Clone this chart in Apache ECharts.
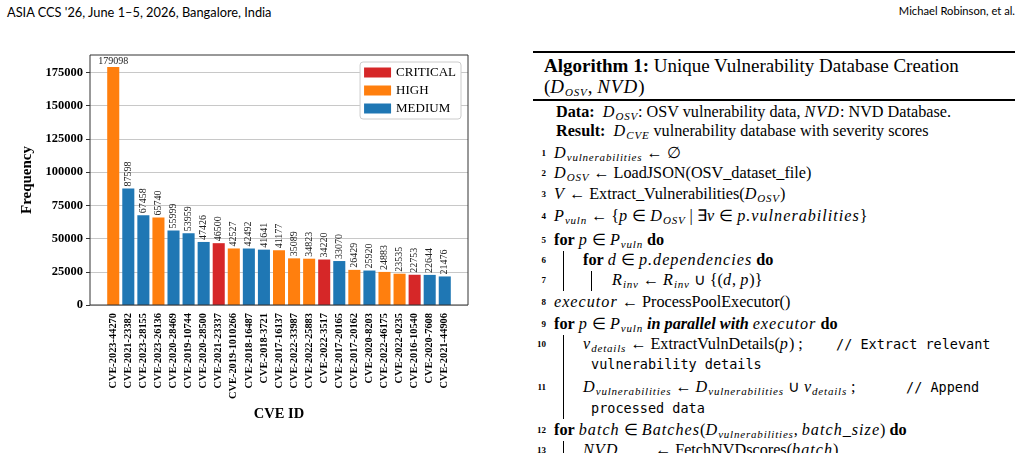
<!DOCTYPE html>
<html>
<head>
<meta charset="utf-8">
<script src="https://cdn.jsdelivr.net/npm/echarts@6/dist/echarts.min.js"></script>
<style>
  body { margin: 0; background: #fff; width: 1022px; height: 453px; overflow: hidden; position: relative; font-family: 'Liberation Serif', serif; color: #000; }
  #chart { position: absolute; left: 0; top: 0; width: 520px; height: 453px; }
  .hdr { position: absolute; top: 4px; font-family: Lato, sans-serif; font-size: 12.8px; white-space: nowrap; }
  .rule { position: absolute; left: 533px; width: 482px; background: #000; }
  .ln { position: absolute; white-space: nowrap; font-size: 16.2px; line-height: 20px; }
  .no { position: absolute; left: 530px; width: 16px; text-align: right; font-size: 9px; font-weight: bold; line-height: 20px; }
  .bar { position: absolute; width: 1px; background: #000; }
  sub { font-size: 11px; font-style: italic; vertical-align: -3px; letter-spacing: 0.8px; }
  .m { font-style: italic; letter-spacing: 1px; }
  .tt { font-family: 'DejaVu Sans Mono', monospace; font-size: 13.5px; letter-spacing: 0; }
</style>
</head>
<body>
<div class="hdr" style="left:7px">ASIA CCS '26, June 1–5, 2026, Bangalore, India</div>
<div class="hdr" style="right:7px;font-size:11.2px">Michael Robinson, et al.</div>
<div id="chart"></div>

<div class="rule" style="top:51px;height:2px"></div>
<div class="ln" style="left:544px;top:55px;font-size:19px;line-height:22px"><b>Algorithm 1:</b> Unique Vulnerability Database Creation</div>
<div class="ln" style="left:544px;top:76px;font-size:19px;line-height:22px">(<span class="m">D</span><sub>OSV</sub>, <span class="m">NVD</span>)</div>
<div class="rule" style="top:99px;height:1.5px"></div>

<div class="ln" style="left:556px;top:102px"><b>Data:</b>&nbsp; <span class="m">D</span><sub>OSV</sub>: OSV vulnerability data, <span class="m">NVD</span>: NVD Database.</div>
<div class="ln" style="left:556px;top:121px"><b>Result:</b>&nbsp; <span class="m">D</span><sub>CVE</sub> vulnerability database with severity scores</div>

<div class="no" style="top:143px">1</div>
<div class="ln" style="left:554px;top:143px"><span class="m">D</span><sub>vulnerabilities</sub> ← ∅</div>
<div class="no" style="top:163px">2</div>
<div class="ln" style="left:554px;top:163px"><span class="m">D</span><sub>OSV</sub> ← LoadJSON(OSV_dataset_file)</div>
<div class="no" style="top:184px">3</div>
<div class="ln" style="left:554px;top:184px"><span class="m">V</span> ← Extract_Vulnerabilities(<span class="m">D</span><sub>OSV</sub>)</div>
<div class="no" style="top:206px">4</div>
<div class="ln" style="left:554px;top:206px"><span class="m">P</span><sub>vuln</sub> ← {<span class="m">p</span> ∈ <span class="m">D</span><sub>OSV</sub> | ∃<span class="m">v</span> ∈ <span class="m">p.vulnerabilities</span>}</div>
<div class="no" style="top:230px">5</div>
<div class="ln" style="left:554px;top:230px"><b>for</b> <span class="m">p</span> ∈ <span class="m">P</span><sub>vuln</sub> <b>do</b></div>
<div class="bar" style="left:563px;top:251px;height:40px"></div>
<div class="no" style="top:250px">6</div>
<div class="ln" style="left:583px;top:250px"><b>for</b> <span class="m">d</span> ∈ <span class="m">p.dependencies</span> <b>do</b></div>
<div class="bar" style="left:591px;top:271px;height:20px"></div>
<div class="no" style="top:270px">7</div>
<div class="ln" style="left:612px;top:270px"><span class="m">R</span><sub>inv</sub> ← <span class="m">R</span><sub>inv</sub> ∪ {(<span class="m">d</span>, <span class="m">p</span>)}</div>
<div class="no" style="top:292px">8</div>
<div class="ln" style="left:554px;top:292px"><span class="m">executor</span> ← ProcessPoolExecutor()</div>
<div class="no" style="top:314px">9</div>
<div class="ln" style="left:554px;top:314px"><b>for</b> <span class="m">p</span> ∈ <span class="m">P</span><sub>vuln</sub> <b><i>in parallel with</i></b> <span class="m">executor</span> <b>do</b></div>
<div class="bar" style="left:563px;top:335px;height:84px"></div>
<div class="no" style="top:334px">10</div>
<div class="ln" style="left:583px;top:334px"><span class="m">v</span><sub>details</sub> ← ExtractVulnDetails(<span class="m">p</span>) ;</div>
<div class="ln tt" style="left:836px;top:334px">// Extract relevant</div>
<div class="ln tt" style="left:591px;top:354px">vulnerability details</div>
<div class="no" style="top:377px">11</div>
<div class="ln" style="left:583px;top:377px"><span class="m">D</span><sub>vulnerabilities</sub> ← <span class="m">D</span><sub>vulnerabilities</sub> ∪ <span class="m">v</span><sub>details</sub> ;</div>
<div class="ln tt" style="left:906px;top:377px">// Append</div>
<div class="ln tt" style="left:591px;top:398px">processed data</div>
<div class="no" style="top:420px">12</div>
<div class="ln" style="left:554px;top:420px"><b>for</b> <span class="m">batch</span> ∈ <span class="m">Batches</span>(<span class="m">D</span><sub>vulnerabilities</sub>, <span class="m">batch_size</span>) <b>do</b></div>
<div class="bar" style="left:563px;top:441px;height:20px"></div>
<div class="no" style="top:440px">13</div>
<div class="ln" style="left:583px;top:440px"><span class="m">NVD</span><sub>scores</sub> ← FetchNVDscores(<span class="m">batch</span>)</div>

<script>
const categories = [
  'CVE-2023-44270', 'CVE-2021-23382', 'CVE-2023-28155', 'CVE-2023-26136',
  'CVE-2020-28469', 'CVE-2019-10744', 'CVE-2020-28500', 'CVE-2021-23337',
  'CVE-2019-1010266', 'CVE-2018-16487', 'CVE-2018-3721', 'CVE-2017-16137',
  'CVE-2022-33987', 'CVE-2022-25883', 'CVE-2022-3517', 'CVE-2017-20165',
  'CVE-2017-20162', 'CVE-2020-8203', 'CVE-2022-46175', 'CVE-2022-0235',
  'CVE-2016-10540', 'CVE-2020-7608', 'CVE-2021-44906'
];
const counts = [
  179098, 87598, 67458, 65740, 55999, 53959, 47426, 46500,
  42527, 42492, 41641, 41177, 35089, 34823, 34220, 33070,
  26429, 25920, 24883, 23535, 22753, 22644, 21476
];
const severity = [
  'HIGH', 'MEDIUM', 'MEDIUM', 'HIGH', 'MEDIUM', 'MEDIUM', 'MEDIUM', 'CRITICAL',
  'HIGH', 'MEDIUM', 'MEDIUM', 'HIGH', 'HIGH', 'HIGH', 'CRITICAL', 'MEDIUM',
  'HIGH', 'MEDIUM', 'HIGH', 'HIGH', 'CRITICAL', 'MEDIUM', 'MEDIUM'
];
const levels = ['CRITICAL', 'HIGH', 'MEDIUM'];
const levelColors = ['#d62728', '#ff7f0e', '#1f77b4'];
const yTicks = [0, 25000, 50000, 75000, 100000, 125000, 150000, 175000];
const yMax = 188053; // matplotlib adds a 5% margin above the tallest bar

const serif = 'Liberation Serif';
const chart = echarts.init(document.getElementById('chart'));

// one series per severity, all overlapping on the same slot
const series = levels.map((lv, k) => ({
  name: lv,
  type: 'bar',
  xAxisIndex: 0,
  yAxisIndex: 0,
  barWidth: '80%',
  barGap: '-100%',
  itemStyle: { color: levelColors[k] },
  label: {
    show: true, position: 'top', rotate: 90, align: 'left', verticalAlign: 'middle',
    distance: 2, fontFamily: serif, fontSize: 10, color: '#222'
  },
  data: counts.map((v, i) => {
    if (severity[i] !== lv) return '-';
    // the tallest bar has its number written flat
    if (i === 0) return { value: v, label: { rotate: 0, align: 'center', verticalAlign: 'bottom', distance: 1 } };
    return v;
  })
}));

const option = {
  animation: false,
  grid: [
    { left: 105.7, top: 55, width: 346.6, height: 250 },
    { left: 90, top: 55, width: 378, height: 250, show: true, borderColor: '#333', borderWidth: 1, z: 10 }
  ],
  legend: {
    data: levels,
    orient: 'vertical',
    right: 59,
    top: 62,
    icon: 'rect',
    itemWidth: 27,
    itemHeight: 10,
    itemGap: 5,
    padding: [4, 5, 4, 4],
    borderColor: '#ccc',
    borderWidth: 1,
    borderRadius: 3,
    backgroundColor: '#fff',
    selectedMode: false,
    textStyle: { fontFamily: serif, fontSize: 13, color: '#000', lineHeight: 13 }
  },
  xAxis: [
    {
      type: 'category',
      gridIndex: 0,
      data: categories,
      axisLine: { show: false },
      axisTick: { alignWithLabel: true, length: 4, lineStyle: { color: '#333' } },
      axisLabel: {
        rotate: 90, interval: 0, margin: 8,
        fontFamily: serif, fontWeight: 'bold', fontSize: 10.4, color: '#000'
      },
      name: 'CVE ID',
      nameLocation: 'middle',
      nameGap: 101,
      nameTextStyle: { fontFamily: serif, fontWeight: 'bold', fontSize: 14.5, color: '#000' }
    },
    { type: 'value', gridIndex: 1, min: 0, max: 1, show: false }
  ],
  yAxis: [
    { type: 'value', gridIndex: 0, min: 0, max: yMax, show: false },
    {
      type: 'value',
      gridIndex: 1,
      min: 0,
      max: yMax,
      interval: 25000,
      axisLine: { show: false },
      axisTick: { show: true, length: 4, customValues: yTicks, lineStyle: { color: '#333' } },
      axisLabel: {
        customValues: yTicks, margin: 7,
        formatter: (v) => String(v),
        fontFamily: serif, fontWeight: 'bold', fontSize: 12.5, color: '#000'
      },
      splitLine: { lineStyle: { color: '#c8c8c8', width: 1 } },
      name: 'Frequency',
      nameLocation: 'middle',
      nameRotate: 90,
      nameGap: 47,
      nameTextStyle: { fontFamily: serif, fontWeight: 'bold', fontSize: 15, color: '#000' }
    }
  ],
  series: series
};

chart.setOption(option);
</script>
</body>
</html>
